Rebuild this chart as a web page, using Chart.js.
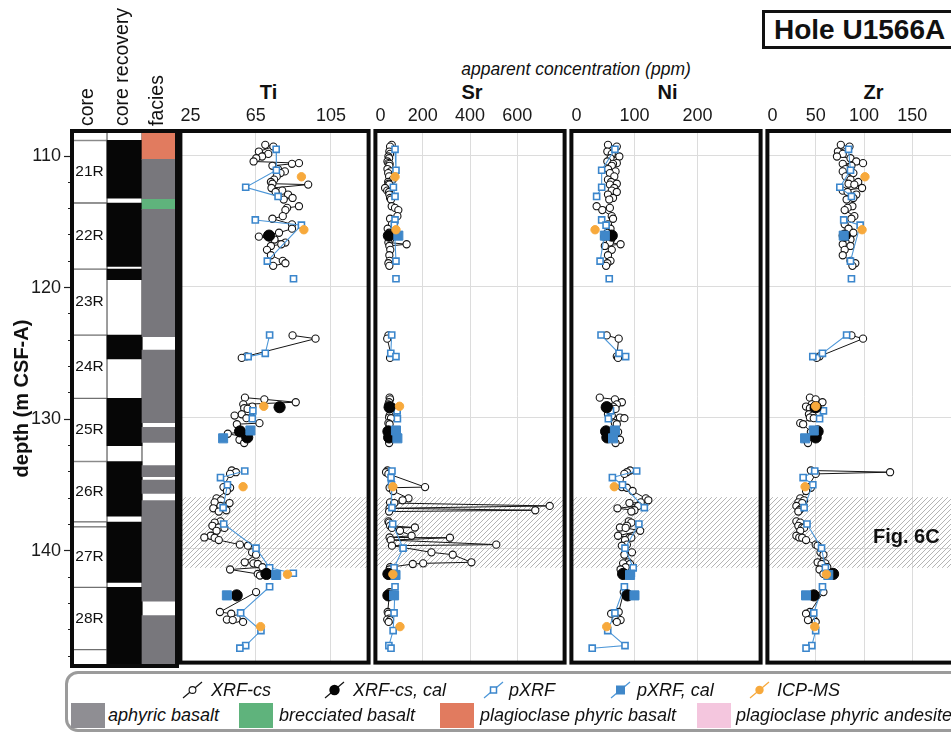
<!DOCTYPE html>
<html>
<head>
<meta charset="utf-8">
<script src="https://cdn.jsdelivr.net/npm/chart.js@4.4.1/dist/chart.umd.min.js"></script>
<style>
  html, body { margin: 0; padding: 0; background: #fff; }
  body { width: 951px; height: 732px; overflow: hidden; position: relative;
         font-family: 'Liberation Sans', Arial, sans-serif; color: #111; }
  canvas { position: absolute; top: 0; }
  .t { position: absolute; white-space: nowrap; line-height: 1; }
  .head { font-weight: bold; font-size: 20px; top: 92px; transform: translate(-50%, -50%); }
  .hole { position: absolute; left: 762px; top: 10px; width: 240px; height: 33px;
          border: 3px solid #111; font-weight: bold; font-size: 28px; line-height: 34px;
          padding-left: 9px; box-sizing: content-box; }
  .legend { position: absolute; left: 65px; top: 671px; width: 930px; height: 55px;
            border: 3px solid #9b9b9b; border-radius: 13px; }
  .lg { position: absolute; font-style: italic; font-size: 18px; white-space: nowrap;
        line-height: 1; transform: translateY(-50%); }
  .sw { position: absolute; width: 34px; height: 25px; }
  svg.ic { position: absolute; }
</style>
</head>
<body>
<div class="hole">Hole U1566A</div>
<div class="t" style="left:576px;top:70px;transform:translate(-50%,-50%);font-style:italic;font-size:17.5px">apparent concentration (ppm)</div>
<div id="heads"></div>

<canvas id="strips"></canvas>
<canvas id="pTi"></canvas>
<canvas id="pSr"></canvas>
<canvas id="pNi"></canvas>
<canvas id="pZr"></canvas>

<div class="t" style="left:873px;top:536px;transform:translateY(-50%);font-weight:bold;font-size:20px">Fig. 6C</div>
<div class="legend"></div>
<div id="legendItems"></div>

<script>
// ---- depth axis (m CSF-A) ----
const depthRange = [108.1, 148.75];
const depthTicks = [110, 112, 114, 116, 118, 120, 122, 124, 126, 128, 130, 132, 134, 136, 138, 140, 142, 144, 146, 148];
const gridDepths = [110, 120, 130, 140];
const hatchDepths = [136.1, 141.5];

// ---- strip columns ----
const stripLabels = ['core', 'core recovery', 'facies'];
const coreNames = ['', '21R', '22R', '23R', '24R', '25R', '26R', '', '27R', '28R', ''];
const coreTops  = [108.1, 108.82, 113.57, 118.6, 123.61, 128.42, 133.21, 137.8, 138.18, 142.78, 147.5];
const coreBases = [108.82, 113.57, 118.6, 123.61, 128.42, 133.21, 137.8, 138.18, 142.78, 147.5, 148.75];
const recoveredTops  = [108.81, 113.57, 118.6, 123.61, 128.42, 133.21, 137.81, 142.78];
const recoveredBases = [113.2, 118.38, 119.4, 125.42, 132.0, 137.36, 142.4, 148.75];
const faciesNames  = ['aphyric basalt', 'brecciated basalt', 'plagioclase phyric basalt', 'plagioclase phyric andesite'];
const faciesColors = ['#78777c', '#5fb37c', '#e17b5f', '#f4c6de'];
const faciesTops  = [108.1, 110.25, 113.29, 114.05, 124.74, 130.62, 133.53, 134.62, 136.19, 144.92];
const faciesBases = [110.25, 113.29, 114.05, 123.73, 130.27, 131.76, 134.37, 135.63, 143.83, 148.75];
const faciesType  = [2, 0, 1, 0, 0, 0, 0, 0, 0, 0];

// ---- element axes ----
const tiRange = [25, 125], tiTicks = [25, 65, 105];
const srRange = [0, 800],  srTicks = [0, 200, 400, 600];
const niRange = [0, 300],  niTicks = [0, 100, 200];
const zrRange = [0, 200],  zrTicks = [0, 50, 100, 150];

// ---- XRF core scanner (null = break between cores) ----
const xrfDepth = [
  109.16, 109.29, 109.67, 109.85, 110.05, 110.18, 110.43, 110.56, 110.61, 110.76, 111.01, 111.19, 111.32, 111.57, 111.82, 112.0, 112.13, 112.2, 112.46, 112.66, 112.76, 112.96, 113.22, 113.34, null,
  113.85, 113.98, 114.15, 114.61, 114.81, 115.24, 115.57, 115.88, 116.18, 116.4, 116.63, 116.76, 116.89, 117.19, 117.6, 118.03, 118.21, 118.41, null,
  123.73, 123.98, 125.33, 125.45, null,
  128.49, 128.62, 128.84, 129.0, 129.17, 129.3, 129.35, 129.76, 129.86, 130.01, 130.06, 130.44, 130.52, 131.12, 131.25, 131.53, 131.71, 131.96, null,
  134.06, 134.19, 134.32, 135.33, 135.38, 135.63, 136.19, 136.34, 136.5, 136.55, 136.77, 136.95, 137.1, 137.2, null,
  137.95, 138.05, 138.29, 138.42, 138.45, 138.67, 139.05, 139.18, 139.2, 139.38, 139.73, 139.81, 140.32, 140.5, 141.08, 141.16, 141.21, 141.46, 141.63, 141.97, 142.09, null,
  143.36, 144.88, 145.01, 145.39, 145.46, 145.5, 145.64
];
const xrfTi = [
  70.1, 74.4, 66.7, 71.7, 68.4, 65.3, 63.9, 88.0, 84.3, 73.9, 76.8, 80.5, 78.2, 76.2, 74.8, 73.1, 73.9, 92.9, 73.4, 79.1, 75.6, 82.2, 84.6, 79.9, null,
  88.0, 81.7, 80.8, 79.4, 73.9, 84.3, 84.3, 77.4, 66.7, 75.0, 80.8, 78.6, 73.1, 71.0, 73.1, 79.4, 80.8, 74.3, null,
  84.6, 96.8, 60.1, 57.6, null,
  59.3, 69.6, 86.3, 58.4, 63.2, 58.9, 60.7, 57.6, 53.8, 62.7, 60.1, 67.0, 55.0, 56.7, 50.2, 60.5, 56.4, 58.9, null,
  52.3, 54.5, 51.4, 47.9, 51.4, 49.7, 44.2, 46.6, 43.2, 51.1, 46.3, 42.5, 49.4, 45.4, null,
  46.3, 43.2, 42.0, 45.4, 48.4, 44.2, 41.1, 37.7, 43.2, 45.4, 56.6, 60.9, 63.1, 65.2, 59.2, 63.8, 66.1, 68.6, 51.4, 66.1, 67.3, null,
  65.2, 46.0, 52.0, 54.9, 49.7, 52.8, 58.3
];
const xrfSr = [
  69, 62, 59, 62, 55, 58, 51, 55, 60, 59, 51, 64, 54, 58, 73, 54, 56, 59, 41, 50, 58, 59, 62, 66, null,
  69, 83, 97, 93, 62, 70, 52, 58, 55, 62, 55, 132, 59, 63, 59, 60, 55, 59, null,
  55, 50, 68, 62, null,
  60, 62, 58, 55, 70, 62, 58, 65, 60, 58, 66, 55, 60, 62, 58, 55, 60, 58, null,
  51, 45, 55, 210, 60, 75, 140, 115, 62, 80, 737, 60, 676, 58, null,
  55, 58, 62, 167, 70, 104, 153, 60, 315, 65, 511, 70, 237, 327, 406, 202, 158, 62, 60, 55, 58, null,
  60, 52, 55, 58, 50, 62, 56
];
const xrfNi = [
  58, 72, 57, 64, 76, 62, 57, 72, 66, 64, 58, 70, 61, 68, 58, 63, 72, 61, 68, 64, 72, 58, 66, 60, null,
  40, 61, 49, 64, 66, 58, 62, 57, 52, 63, 61, 78, 53, 64, 58, 62, 57, 55, null,
  56, 75, 72, 74, null,
  45, 69, 80, 72, 66, 62, 70, 58, 64, 77, 84, 69, 72, 74, 66, 60, 77, 70, null,
  93, 88, 84, 80, 88, 97, 118, 122, 110, 92, 106, 73, 100, 95, null,
  91, 95, 88, 77, 86, 109, 74, 92, 95, 85, 88, 80, 96, 84, 90, 82, 93, 86, 78, 84, 90, null,
  83, 75, 63, 74, 70, 78, 72
];
const xrfZr = [
  76, 85, 73, 78, 72, 86, 92, 99, 78, 87, 81, 78, 89, 81, 86, 94, 84, 90, 98, 78, 83, 92, 89, 82, null,
  88, 83, 80, 90, 87, 80, 84, 89, 82, 86, 81, 78, 86, 80, 78, 86, 91, 88, null,
  87, 99, 54, 51, null,
  44, 50, 57, 46, 40, 44, 48, 43, 47, 44, 48, 34, 37, 45, 52, 44, 40, 42, null,
  45, 127, 50, 42, 45, 40, 34, 38, 32, 36, 30, 35, 33, 32, null,
  30, 34, 32, 36, 38, 34, 30, 33, 36, 40, 50, 52, 55, 58, 52, 60, 56, 62, 54, 58, 64, null,
  58, 44, 40, 45, 48, 42, 50
];

// XRF-cs calibrated
const xrfCalDepth = [116.1, 129.22, 131.07, 131.53, 141.97, 143.61];
const xrfCalTi = [72.1, 77.7, 56.7, 60.5, 70.7, 54.9];
const xrfCalSr = [57, 60, 55, 58, 55, 55];
const xrfCalNi = [64, 56, 55, 57, 82, 89];
const xrfCalZr = [80, 50, 52, 50, 68, 48];

// ---- portable XRF ----
const pxrfDepth = [109.5, 111.1, 112.4, 113.1, null, 114.9, 115.3, 118.05, null, 119.4, null, 123.7, 125.1, 125.35, null,
  129.5, 130.1, null, 134.1, 134.6, 135.15, 136.9, null, 138.15, 140.0, 141.5, 141.92, null, 142.95, 144.95, 146.3, 147.45, 147.65];
const pxrfTi = [75.9, 76, 59.7, 76.9, null, 64.8, 89.3, 71.2, null, 85.1, null, 72.4, 70.1, 61, null,
  63.5, 63.2, null, 59.2, 46.3, 50, 47.7, null, 48, 65.2, 72.4, 85.0, null, 72.4, 57.0, 67.8, 59.7, 56.6];
const pxrfSr = [83, 87, 76, 83, null, 83, 80, 87, null, 87, null, 69, 65, 87, null,
  92, 93, null, 70, 66, 68, 70, null, 73, 117, 79, 80, null, 83, 79, 75, 57, 66];
const pxrfNi = [69, 48, 48, 40, null, 48, 55, 45.5, null, 60, null, 47, 75.5, 86, null,
  62, 58.6, null, 103.5, 65, 81, 115.6, null, 107, 85, 98, 95, null, 84, 69, 57.6, 85, 33];
const pxrfZr = [84, 86, 75, 87, null, 79, 96, 86, null, 87, null, 82, 57, 47, null,
  58, 54, null, 49, 37, 47, 38, null, 41, 56, 60, 62, null, 57, 48, 50, 46, 40];

// pXRF calibrated
const pxrfCalDepth = [116.1, 131.0, 131.6, 142.05, 143.61];
const pxrfCalTi = [null, 62.2, 47.7, 75.9, 49.7];
const pxrfCalSr = [97, 87, 93, 85, 79];
const pxrfCalNi = [53, 69, 66, 93, 100];
const pxrfCalZr = [79, 48, 39, 63, 40];

// ---- ICP-MS ----
const icpDepth = [111.6, 115.65, 129.15, 135.3, 142.0, 146.0];
const icpTi = [89.3, 90.6, 69.3, 58.3, 81.9, 67.6];
const icpSr = [83, 87, 102, 74, 74, 104];
const icpNi = [null, 37.5, null, 68, null, 56];
const icpZr = [101, 98, 50, 39, 61, 49];

const seriesNames = ['XRF-cs', 'XRF-cs, cal', 'pXRF', 'pXRF, cal', 'ICP-MS'];
const elements = ['Ti', 'Sr', 'Ni', 'Zr'];

// ------------------------------------------------------------
Chart.defaults.font.family = "'Liberation Sans', Arial, sans-serif";
Chart.defaults.color = '#111';

const TOP = 131, BOTTOM = 666, CANVAS_H = 670;
const BLUE = '#3b86cc', BLUE_FILL = '#3f87c9', ORANGE = '#f7a93c';

const toPoints = (depths, values) => depths.map((d, i) => ({ x: values[i], y: d }));

const framePlugin = {
  id: 'frame',
  afterDraw(chart) {
    const { ctx, chartArea: a } = chart;
    ctx.save();
    ctx.strokeStyle = '#0b0b0b';
    ctx.lineWidth = 4;
    ctx.strokeRect(a.left, a.top, a.right - a.left, a.bottom - a.top);
    ctx.restore();
  }
};

function makeHatch(ctx) {
  const c = document.createElement('canvas');
  c.width = 5; c.height = 5;
  const p = c.getContext('2d');
  p.strokeStyle = '#b4b4b4';
  p.lineWidth = 1;
  p.beginPath();
  p.moveTo(0, 5); p.lineTo(5, 0);
  p.moveTo(-1, 1); p.lineTo(1, -1);
  p.moveTo(4, 6); p.lineTo(6, 4);
  p.stroke();
  return ctx.createPattern(c, 'repeat');
}

const hatchPlugin = {
  id: 'hatch',
  beforeDatasetsDraw(chart) {
    const { ctx, chartArea: a, scales: { y } } = chart;
    const y0 = y.getPixelForValue(hatchDepths[0]);
    const y1 = y.getPixelForValue(hatchDepths[1]);
    ctx.save();
    ctx.fillStyle = makeHatch(ctx);
    ctx.fillRect(a.left, y0, a.right - a.left, y1 - y0);
    ctx.restore();
  }
};

const coreLabelPlugin = {
  id: 'coreLabels',
  afterDatasetsDraw(chart) {
    const { ctx, scales: { x, y } } = chart;
    ctx.save();
    ctx.font = "15.5px 'Liberation Sans', Arial, sans-serif";
    ctx.fillStyle = '#111';
    ctx.textAlign = 'center';
    ctx.textBaseline = 'middle';
    coreNames.forEach((n, i) => {
      if (!n) return;
      ctx.fillText(n, x.getPixelForValue(0), y.getPixelForValue((coreTops[i] + coreBases[i]) / 2));
    });
    ctx.restore();
  }
};

// strip columns: core / core recovery / facies
const bars = (col, tops, bases) => tops.map((t, i) => ({ x: col, y: [t, bases[i]] }));
const stripCanvas = document.getElementById('strips');
stripCanvas.width = 181; stripCanvas.height = CANVAS_H;
stripCanvas.style.left = '0px';

const barBase = { grouped: false, barPercentage: 1, categoryPercentage: 1, borderSkipped: false };
new Chart(stripCanvas, {
  type: 'bar',
  data: {
    labels: stripLabels,
    datasets: [
      Object.assign({ data: [{ x: stripLabels[1], y: depthRange }, { x: stripLabels[2], y: depthRange }],
        backgroundColor: '#fff', borderColor: '#707070', borderWidth: 1, order: 4 }, barBase),
      Object.assign({ data: bars(stripLabels[0], coreTops, coreBases),
        backgroundColor: '#fff', borderColor: '#707070', borderWidth: 1, order: 3 }, barBase),
      Object.assign({ data: bars(stripLabels[1], recoveredTops, recoveredBases),
        backgroundColor: '#060606', borderWidth: 0, order: 2 }, barBase),
      Object.assign({ data: bars(stripLabels[2], faciesTops, faciesBases),
        backgroundColor: faciesType.map(k => faciesColors[k]), borderWidth: 0, order: 1 }, barBase)
    ]
  },
  options: {
    responsive: false,
    animation: false,
    events: [],
    layout: { padding: { left: 0, right: 4, top: 0, bottom: CANVAS_H - BOTTOM } },
    plugins: { legend: { display: false }, tooltip: { enabled: false } },
    scales: {
      x: {
        type: 'category', position: 'top', offset: true,
        grid: { display: false, drawTicks: false }, border: { display: false },
        afterFit: s => { s.height = TOP; s.paddingLeft = 0; s.paddingRight = 0; },
        ticks: { minRotation: 90, maxRotation: 90, padding: 5, labelOffset: 22, autoSkip: false,
                 font: { size: 19.5 }, color: '#111' }
      },
      y: {
        type: 'linear', position: 'left', reverse: true, min: depthRange[0], max: depthRange[1],
        afterBuildTicks: s => { s.ticks = depthTicks.map(v => ({ value: v })); },
        afterFit: s => { s.width = 72; s.paddingTop = 0; s.paddingBottom = 0; },
        grid: {
          drawOnChartArea: false, tickLength: 8, tickColor: '#222', tickWidth: 1.2,
          tickBorderDash: c => (c.tick && c.tick.value % 10 === 0) ? [] : [0, 4, 4, 100]
        },
        border: { display: false },
        ticks: { padding: 3, autoSkip: false, font: { size: 18 }, color: '#1a1a1a',
                 callback: v => (v % 10 === 0 ? String(v) : '') },
        title: { display: true, text: 'depth (m CSF-A)', color: '#111',
                 font: { size: 20, weight: 'bold' }, padding: { top: 10, bottom: 0 } }
      }
    }
  },
  plugins: [coreLabelPlugin, framePlugin]
});

// element panels
function panel(id, left, width, range, ticks, v) {
  const canvas = document.getElementById(id);
  canvas.width = width + 8; canvas.height = CANVAS_H;
  canvas.style.left = (left - 4) + 'px';
  return new Chart(canvas, {
    type: 'scatter',
    data: {
      datasets: [
        { label: seriesNames[0], data: toPoints(xrfDepth, v.xrf), showLine: true, order: 5,
          borderColor: '#151515', borderWidth: 1, pointRadius: 3.6,
          pointBackgroundColor: '#fff', pointBorderColor: '#151515', pointBorderWidth: 1.1 },
        { label: seriesNames[2], data: toPoints(pxrfDepth, v.pxrf), showLine: true, order: 4,
          borderColor: '#4d97d8', borderWidth: 1.1, pointStyle: 'rect', pointRadius: 4.3,
          pointBackgroundColor: '#fff', pointBorderColor: BLUE, pointBorderWidth: 1.6 },
        { label: seriesNames[1], data: toPoints(xrfCalDepth, v.xrfCal), order: 3, pointRadius: 5.6,
          pointBackgroundColor: '#050505', pointBorderColor: '#050505', pointBorderWidth: 1 },
        { label: seriesNames[3], data: toPoints(pxrfCalDepth, v.pxrfCal), order: 2, pointStyle: 'rect',
          pointRadius: 6.4, pointBackgroundColor: BLUE_FILL, pointBorderColor: BLUE_FILL, pointBorderWidth: 1 },
        { label: seriesNames[4], data: toPoints(icpDepth, v.icp), order: 1, pointRadius: 4.2,
          pointBackgroundColor: ORANGE, pointBorderColor: ORANGE, pointBorderWidth: 1 }
      ]
    },
    options: {
      responsive: false,
      animation: false,
      events: [],
      layout: { padding: { left: 4, right: 4, top: 0, bottom: CANVAS_H - BOTTOM } },
      plugins: { legend: { display: false }, tooltip: { enabled: false } },
      scales: {
        x: {
          type: 'linear', position: 'top', min: range[0], max: range[1],
          afterBuildTicks: s => { s.ticks = ticks.map(t => ({ value: t })); },
          afterFit: s => { s.height = TOP; s.paddingLeft = 0; s.paddingRight = 0; },
          grid: { color: '#dcdcdc', lineWidth: 1, drawTicks: false },
          border: { display: false },
          ticks: {
            padding: 4, autoSkip: false, maxRotation: 0, font: { size: 18 }, color: '#1a1a1a',
            // first label sits just inside the frame
            callback: (val, i) => i === 0 ? '\u2007'.repeat(String(ticks[0]).length) + ticks[0] : String(ticks[i])
          }
        },
        y: {
          type: 'linear', reverse: true, min: depthRange[0], max: depthRange[1],
          afterBuildTicks: s => { s.ticks = gridDepths.map(t => ({ value: t })); },
          afterFit: s => { s.width = 0; s.paddingTop = 0; s.paddingBottom = 0; },
          grid: { color: '#dcdcdc', drawTicks: false },
          border: { display: false },
          ticks: { display: false }
        }
      }
    },
    plugins: [hatchPlugin, framePlugin]
  });
}

const panelLeft = [177, 372, 568, 764];
const panelWidth = [195, 196, 196, 200];
panel('pTi', panelLeft[0], panelWidth[0], tiRange, tiTicks,
  { xrf: xrfTi, pxrf: pxrfTi, xrfCal: xrfCalTi, pxrfCal: pxrfCalTi, icp: icpTi });
panel('pSr', panelLeft[1], panelWidth[1], srRange, srTicks,
  { xrf: xrfSr, pxrf: pxrfSr, xrfCal: xrfCalSr, pxrfCal: pxrfCalSr, icp: icpSr });
panel('pNi', panelLeft[2], panelWidth[2], niRange, niTicks,
  { xrf: xrfNi, pxrf: pxrfNi, xrfCal: xrfCalNi, pxrfCal: pxrfCalNi, icp: icpNi });
panel('pZr', panelLeft[3], panelWidth[3], zrRange, zrTicks,
  { xrf: xrfZr, pxrf: pxrfZr, xrfCal: xrfCalZr, pxrfCal: pxrfCalZr, icp: icpZr });

// panel headings
const headX = [268.5, 472, 667.5, 873.5];
document.getElementById('heads').innerHTML = elements
  .map((e, i) => `<div class="t head" style="left:${headX[i]}px">${e}</div>`).join('');

// legend
const icon = (kind) => {
  const line = kind === 4 ? ORANGE : (kind >= 2 ? '#4d97d8' : '#151515');
  let mark = '';
  if (kind === 0) mark = '<circle cx="10.5" cy="9" r="3.4" fill="#fff" stroke="#151515" stroke-width="1.1"/>';
  if (kind === 1) mark = '<circle cx="10.5" cy="9" r="5.2" fill="#050505"/>';
  if (kind === 2) mark = `<rect x="7.5" y="6" width="6" height="6" fill="#fff" stroke="${BLUE}" stroke-width="1.5"/>`;
  if (kind === 3) mark = `<rect x="6" y="4.5" width="9" height="9" fill="${BLUE_FILL}"/>`;
  if (kind === 4) mark = `<circle cx="10.5" cy="9" r="4.2" fill="${ORANGE}"/>`;
  return `<line x1="1" y1="17" x2="20" y2="1" stroke="${line}" stroke-width="1.2"/>${mark}`;
};
const iconX = [182, 324, 483, 610, 749];
const textX = [211, 353, 509, 637, 777];
const swX = [71, 239, 440, 697];
const swTextX = [108, 279, 480, 736];
const legendColors = ['#8f8e93', '#5fb37c', '#e17b5f', '#f4c6de'];
let html = '';
seriesNames.forEach((n, i) => {
  html += `<svg class="ic" style="left:${iconX[i]}px;top:681px" width="21" height="18">${icon(i)}</svg>`;
  html += `<div class="lg" style="left:${textX[i]}px;top:690px">${n}</div>`;
});
faciesNames.forEach((n, i) => {
  html += `<div class="sw" style="left:${swX[i]}px;top:703px;background:${legendColors[i]}"></div>`;
  html += `<div class="lg" style="left:${swTextX[i]}px;top:715px">${n}</div>`;
});
document.getElementById('legendItems').innerHTML = html;
</script>
</body>
</html>
